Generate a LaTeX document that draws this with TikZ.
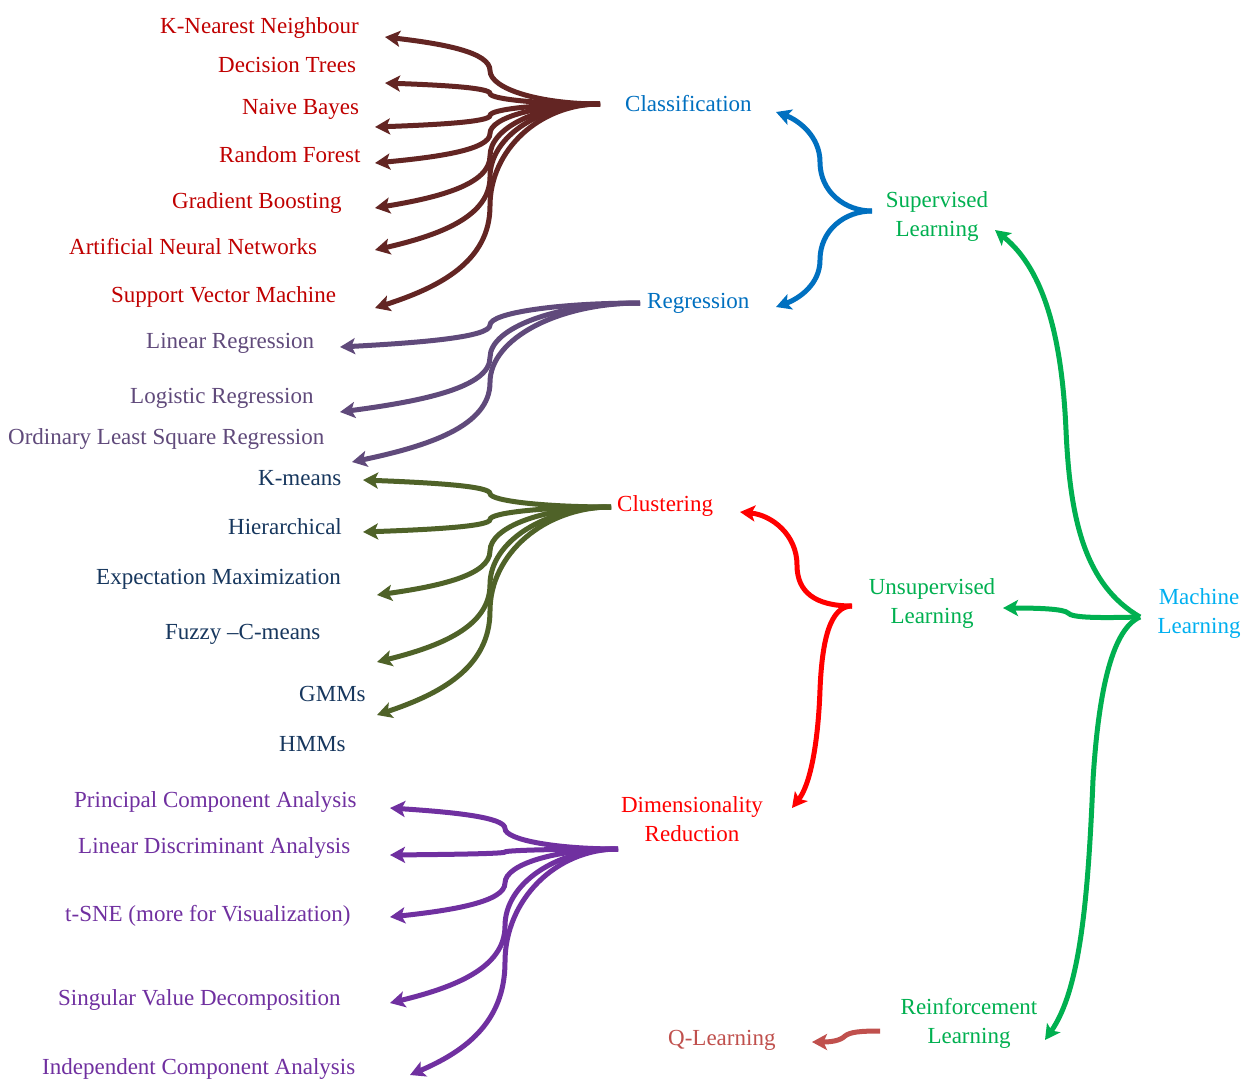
\documentclass[tikz,border=0pt]{standalone}
\usepackage{fontspec}
\setmainfont{Liberation Serif}
\usetikzlibrary{arrows.meta}
\definecolor{brn}{RGB}{99,37,35}
\definecolor{clsred}{RGB}{192,0,0}
\definecolor{regpur}{RGB}{96,74,123}
\definecolor{cnavy}{RGB}{23,55,94}
\definecolor{olive}{RGB}{79,98,40}
\definecolor{drpur}{RGB}{112,48,160}
\definecolor{mblue}{RGB}{0,112,192}
\definecolor{mgreen}{RGB}{0,176,80}
\definecolor{lblue}{RGB}{0,176,240}
\definecolor{mred}{RGB}{255,0,0}
\definecolor{qred}{RGB}{192,80,77}
% #1 style, #2 hub name, #3 hx, #4 hy, #5 mx, #6 target name, #7 tx, #8 ty
\newcommand\fanbranch[8]{%
  \pgfmathsetmacro\fbmy{(#4+#8)/2}%
  \pgfmathsetmacro\fbca{#3-0.55*(#3-#5)}%
  \pgfmathsetmacro\fbcb{\fbmy-0.55*(\fbmy-#4)}%
  \pgfmathsetmacro\fbcc{\fbmy+0.55*(#8-\fbmy)}%
  \pgfmathsetmacro\fbcd{#7+0.55*(#5-#7)}%
  \pgfmathsetmacro\fbce{#8-0.2*(#8-\fbmy)}%
  \coordinate (#6) at (#7,#8);
  \draw[#1] (#2) .. controls (\fbca,#4) and (#5,\fbcb) .. (#5,\fbmy) .. controls (#5,\fbcc) and (\fbcd,\fbce) .. (#6);
}
\begin{document}
\begin{tikzpicture}[x=1pt,y=-1pt,
  lbl/.style={inner sep=0pt, font=\fontsize{23}{29}\selectfont, anchor=base west},
  lbltwo/.style={inner sep=0pt, font=\fontsize{23}{29}\selectfont, align=center, anchor=center},
  arr/.style={line width=5pt, -{Stealth[length=15pt,width=16pt,inset=3.5pt]}}]
\useasboundingbox (0,0) rectangle (1254,1080);
\fill[white] (0,0) rectangle (1254,1080);

% ---------- labels ----------
\node[lbl, text=clsred] (knn) at (160,33) {K-Nearest Neighbour};
\node[lbl, text=clsred] (dt) at (218,72) {Decision Trees};
\node[lbl, text=clsred] (nb) at (242,114) {Naive Bayes};
\node[lbl, text=clsred] (rf) at (219,162) {Random Forest};
\node[lbl, text=clsred] (gb) at (172,208) {Gradient Boosting};
\node[lbl, text=clsred] (ann) at (69,254) {Artificial Neural Networks};
\node[lbl, text=clsred] (svm) at (111,302) {Support Vector Machine};

\node[lbl, text=regpur] (linreg) at (146,348) {Linear Regression};
\node[lbl, text=regpur] (logreg) at (130,403) {Logistic Regression};
\node[lbl, text=regpur] (ols) at (8,444) {Ordinary Least Square Regression};

\node[lbl, text=cnavy] (kmeans) at (258,485) {K-means};
\node[lbl, text=cnavy] (hier) at (228,534) {Hierarchical};
\node[lbl, text=cnavy] (em) at (96,584) {Expectation Maximization};
\node[lbl, text=cnavy] (fuzzy) at (165,639) {Fuzzy –C-means};
\node[lbl, text=cnavy] (gmms) at (299,701) {GMMs};
\node[lbl, text=cnavy] (hmms) at (279,751) {HMMs};

\node[lbl, text=drpur] (pca) at (74,807) {Principal Component Analysis};
\node[lbl, text=drpur] (lda) at (78,853) {Linear Discriminant Analysis};
\node[lbl, text=drpur] (tsne) at (65,921) {t-SNE (more for Visualization)};
\node[lbl, text=drpur] (svd) at (58,1005) {Singular Value Decomposition};
\node[lbl, text=drpur] (ica) at (42,1074) {Independent Component Analysis};

\node[lbl, text=mblue] (class) at (625,111) {Classification};
\node[lbl, text=mblue] (reg) at (647,308) {Regression};
\node[lbl, text=mred] (clus) at (617,511) {Clustering};
\node[lbltwo, text=mred] (dr) at (692,819) {Dimensionality\\Reduction};
\node[lbltwo, text=mgreen] (sup) at (937,216) {Supervised\\Learning};
\node[lbltwo, text=mgreen] (unsup) at (932,603) {Unsupervised\\Learning};
\node[lbltwo, text=mgreen] (rl) at (969,1023) {Reinforcement\\Learning};
\node[lbltwo, text=lblue] (ml) at (1199,613) {Machine\\Learning};
\node[lbl, text=qred] (qlearn) at (668,1045) {Q-Learning};

% ---------- hubs ----------
\coordinate (cH) at (600,104);
\coordinate (rH) at (640,303);
\coordinate (kH) at (611,507);
\coordinate (dH) at (618,849);
\coordinate (sH) at (872,211);
\coordinate (uH) at (852,606);
\coordinate (mlH) at (1140,617);
\coordinate (qH) at (880,1031);

% ---------- classification fan ----------
\fanbranch{arr,brn}{cH}{600}{104}{490}{tknn}{385}{37}
\fanbranch{arr,brn}{cH}{600}{104}{490}{tdt}{385}{83}
\fanbranch{arr,brn}{cH}{600}{104}{490}{tnb}{375}{127}
\fanbranch{arr,brn}{cH}{600}{104}{490}{trf}{375}{163}
\fanbranch{arr,brn}{cH}{600}{104}{490}{tgb}{375}{208}
\fanbranch{arr,brn}{cH}{600}{104}{490}{tann}{375}{250}
\fanbranch{arr,brn}{cH}{600}{104}{490}{tsvm}{375}{308}

% ---------- regression fan ----------
\fanbranch{arr,regpur}{rH}{640}{303}{490}{tlin}{340}{347}
\fanbranch{arr,regpur}{rH}{640}{303}{490}{tlog}{340}{412}
\fanbranch{arr,regpur}{rH}{640}{303}{490}{tols}{352}{462}

% ---------- clustering fan ----------
\fanbranch{arr,olive}{kH}{611}{507}{490}{tkm}{363}{480}
\fanbranch{arr,olive}{kH}{611}{507}{490}{thi}{363}{532}
\fanbranch{arr,olive}{kH}{611}{507}{490}{tem}{377}{595}
\fanbranch{arr,olive}{kH}{611}{507}{490}{tfz}{377}{662}
\fanbranch{arr,olive}{kH}{611}{507}{490}{tgm}{377}{715}

% ---------- dimensionality reduction fan ----------
\fanbranch{arr,drpur}{dH}{618}{849}{505}{tpca}{390}{808}
\fanbranch{arr,drpur}{dH}{618}{849}{505}{tlda}{390}{855}
\fanbranch{arr,drpur}{dH}{618}{849}{505}{tts}{390}{917}
\fanbranch{arr,drpur}{dH}{618}{849}{505}{tsv}{390}{1003}
\fanbranch{arr,drpur}{dH}{618}{849}{505}{tic}{410}{1075}

% ---------- supervised ----------
\coordinate (tcls) at (776,112);
\coordinate (treg) at (776,307);
\draw[arr,mblue] (sH) .. controls (845,211) and (820,192) .. (820,162) .. controls (820,136) and (798,120) .. (tcls);
\draw[arr,mblue] (sH) .. controls (845,211) and (820,230) .. (820,260) .. controls (820,285) and (798,299) .. (treg);

% ---------- unsupervised ----------
\coordinate (tclu) at (740,512);
\coordinate (tdr) at (792,808);
\draw[arr,mred] (uH) .. controls (815,606) and (797,592) .. (797,565) .. controls (797,535) and (772,515) .. (tclu);
\draw[arr,mred] (uH) .. controls (830,606) and (822,640) .. (820,690) .. controls (818,745) and (810,785) .. (tdr);

% ---------- machine learning ----------
\coordinate (tsup) at (995,230);
\coordinate (tuns) at (1003,608);
\coordinate (trl) at (1045,1040);
\draw[arr,mgreen] (mlH) .. controls (1085,585) and (1070,520) .. (1066,430) .. controls (1062,340) and (1045,270) .. (tsup);
\draw[arr,mgreen] (mlH) .. controls (1100,618) and (1072,618) .. (1068,613) .. controls (1064,609) and (1040,608) .. (tuns);
\draw[arr,mgreen] (mlH) .. controls (1110,630) and (1098,700) .. (1093,780) .. controls (1088,900) and (1080,990) .. (trl);

% ---------- reinforcement ----------
\coordinate (tq) at (812,1042);
\draw[arr,qred] (qH) .. controls (860,1031) and (850,1032) .. (845,1036) .. controls (840,1041) and (830,1042) .. (tq);
\end{tikzpicture}
\end{document}
